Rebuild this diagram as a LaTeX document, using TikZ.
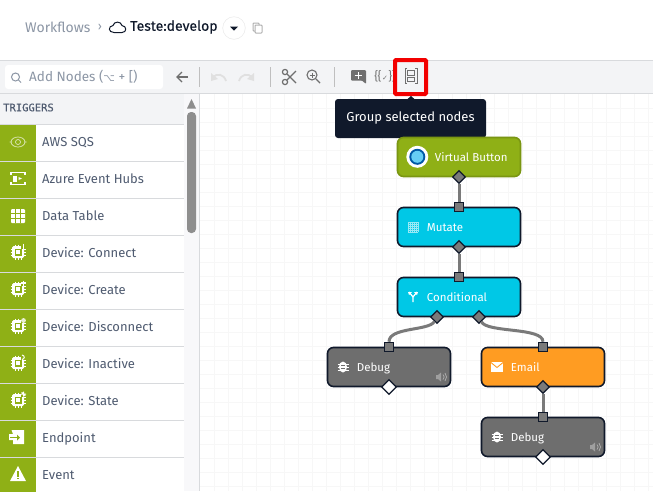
\documentclass[tikz,border=0pt]{standalone}
\usepackage{fontspec}
\setmainfont{Fira Sans}
\newfontfamily\symfont{DejaVu Sans}
\newfontfamily\capfont{DejaVu Sans Mono}
\usetikzlibrary{shapes.geometric}
\definecolor{navy}{HTML}{10192B}
\definecolor{panel}{HTML}{F3F4F6}
\definecolor{rule}{HTML}{D8DADD}
\definecolor{slate}{HTML}{4F5B70}
\definecolor{mist}{HTML}{8C96A5}
\definecolor{leaf}{HTML}{8FB016}
\definecolor{leafdark}{HTML}{7A9612}
\definecolor{sky}{HTML}{00C8E6}
\definecolor{ember}{HTML}{FF9C22}
\definecolor{ash}{HTML}{6E6E6E}
\definecolor{wire}{HTML}{7A7A7A}
\definecolor{icongrey}{HTML}{6F6F6F}
\tikzset{
  flowbox/.style={draw=navy, line width=1.6pt, rounded corners=6pt, minimum width=123pt, minimum height=39pt, inner sep=0pt},
  flowlabel/.style={anchor=west, text=white, text height=8.5pt, text depth=2.5pt, yshift=-1pt, font=\fontsize{11.5}{13}\selectfont, inner sep=0pt},
  rowlabel/.style={anchor=west, text=slate, text height=9.5pt, text depth=3pt, font=\fontsize{13}{15}\selectfont, inner sep=0pt},
  inport/.style={draw=navy, fill=wire, line width=1.5pt, minimum size=9pt, inner sep=0pt},
  outport/.style={diamond, draw=navy, fill=wire, line width=1.2pt, minimum size=13pt, inner sep=0pt},
  endport/.style={outport, fill=white, minimum size=15pt},
  flowwire/.style={draw=wire, line width=3pt},
  chip/.pic={
    \foreach \p in {-3,0,3} {
      \draw[white, line width=1pt] (-7.5,\p) -- (7.5,\p);
      \draw[white, line width=1pt] (\p,-7.5) -- (\p,7.5);
    }
    \fill[white, rounded corners=1.5pt] (-6,-6) rectangle (6,6);
    \fill[leaf] (-3.5,-3.5) rectangle (3.5,3.5);
    \fill[white] (-1.8,-1.8) rectangle (1.8,1.8);
    \fill[leaf] (3.2,-9) rectangle (9,-3.2);
  },
  bug/.pic={
    \foreach \p in {-3,0,3} \draw[white, line width=1pt] (-5.5,\p) -- (5.5,\p);
    \fill[white] (0,0) ellipse (4pt and 5.5pt);
    \draw[ash, line width=.4pt] (-1.8,-1.5) -- (1.8,-1.5) (-1.8,1.5) -- (1.8,1.5);
  },
  speaker/.pic={
    \fill[gray!75] (-5,-2) -- (-3,-2) -- (0,-4.5) -- (0,4.5) -- (-3,2) -- (-5,2) -- cycle;
    \draw[gray!60, line width=.7pt] (2,-2.5) .. controls (3.5,-1) and (3.5,1) .. (2,2.5);
    \draw[gray!60, line width=.7pt] (4,-4) .. controls (6,-1.5) and (6,1.5) .. (4,4);
  }
}
\begin{document}
\begin{tikzpicture}[x=1pt, y=-1pt]
  \useasboundingbox (0,0) rectangle (653,491);
  \fill[white] (0,0) rectangle (653,491);
  %% Canvas grid
  \foreach \x in {214,228,...,648} \draw[black!3, line width=.7pt] (\x,94) -- (\x,491);
  \foreach \y in {108,122,...,486} \draw[black!3, line width=.7pt] (200,\y) -- (653,\y);
  %% Header
  \node[anchor=west, text=mist, inner sep=0pt, font=\fontsize{14}{16}\selectfont] (crumb) at (25,27) {Workflows};
  \node[anchor=center, text=mist, inner sep=0pt, font=\fontsize{12}{14}\selectfont] (crumbsep) at (100,27.5) {›};
  \draw[navy, line width=1pt, line join=round] (114,32.5) .. controls (108,32.5) and (108,26) .. (113,25.5)
    .. controls (114,21) and (121,21) .. (122,25.5) .. controls (127,26) and (127,32.5) .. (122,32.5) -- cycle;
  \node[anchor=west, text=navy, inner sep=0pt, font=\fontsize{14}{16}\selectfont\addfontfeature{FakeBold=0.3}] (flowname) at (130,27) {Teste:develop};
  \draw[black!10, fill=white] (234,28) circle (11.3);
  \fill[navy] (230,26.5) -- (238,26.5) -- (234,30.5) -- cycle;
  \draw[black!30, line width=1pt, fill=white, rounded corners=.8pt] (253,23) rectangle (259,31);
  \draw[black!30, line width=1pt, fill=white, rounded corners=.8pt] (255,25) rectangle (262,33);
  %% Toolbar
  \fill[panel] (0,60) rectangle (653,93);
  \draw[rule, line width=1pt] (0,60) -- (653,60);
  \draw[rule, line width=1pt] (0,93.5) -- (653,93.5);
  \fill[white, rounded corners=3pt] (5,65) rectangle (163,89);
  \draw[mist, line width=1pt] (15.5,77) circle (4);
  \draw[mist, line width=1pt] (18.5,80) -- (21,82.5);
  \node[anchor=west, text=mist, inner sep=0pt, font=\fontsize{13.5}{16}\selectfont] (search) at (29,77) {Add Nodes ({\symfont\fontsize{10}{12}\selectfont ⌥} + [)};
  \draw[icongrey, line width=1.1pt] (188,77) -- (177,77);
  \draw[icongrey, line width=1.1pt] (182,72) -- (177,77) -- (182,82);
  \foreach \x in {199.5,270.5,334} \draw[black!25, line width=.8pt] (\x,67) -- (\x,87);
  \draw[black!12, line width=1.8pt] (226,81) .. controls (224,74) and (217,73) .. (213,77);
  \fill[black!12] (211,73) -- (218,79) -- (211,81) -- cycle;
  \draw[black!12, line width=1.8pt] (239,81) .. controls (241,74) and (248,73) .. (252,77);
  \fill[black!12] (254,73) -- (247,79) -- (254,81) -- cycle;
  %% Scissors and zoom
  \draw[icongrey, line width=1.2pt] (285,82) circle (2.6);
  \draw[icongrey, line width=1.2pt] (285,72) circle (2.6);
  \draw[icongrey, line width=1.2pt] (287,74) -- (296,83);
  \draw[icongrey, line width=1.2pt] (287,80) -- (296,71);
  \draw[icongrey, line width=1.1pt] (312,75) circle (5);
  \draw[icongrey, line width=1.4pt] (316,79) -- (320,83);
  \draw[icongrey, line width=.9pt] (309.5,75) -- (314.5,75) (312,72.5) -- (312,77.5);
  %% Comment, rule and group icons
  \fill[icongrey, rounded corners=1pt] (351,70) -- (366,70) -- (366,84) -- (362,80.5) -- (351,80.5) -- cycle;
  \draw[white, line width=1.4pt] (354.5,75.5) -- (362,75.5) (358.2,72) -- (358.2,79);
  \node[text=black!55, inner sep=0pt, font=\fontsize{12}{13}\selectfont] (ruleicon) at (385,76) {\{\kern-.5pt\{\kern.5pt{\symfont\fontsize{7}{8}\selectfont ✓}\kern.5pt\}\kern-.5pt\}};
  \draw[icongrey, line width=.8pt] (407,68) -- (405,68) -- (405,83.5) -- (407,83.5);
  \draw[icongrey, line width=.8pt] (415,68) -- (417,68) -- (417,83.5) -- (415,83.5);
  \draw[icongrey, line width=.8pt] (407.5,70.5) rectangle (414.5,75);
  \draw[icongrey, line width=.8pt] (407.5,77) rectangle (414.5,81.5);
  \draw[red!95!black, line width=4pt, rounded corners=1pt] (395,60) rectangle (426,94);
  %% Tooltip
  \fill[navy] (407,99.5) -- (411,96) -- (415,99.5) -- cycle;
  \node[fill=navy, rounded corners=3pt, minimum width=151pt, minimum height=39pt, inner sep=0pt, text=white,
    font=\fontsize{13}{15}\selectfont] (tooltip) at (410.5,118.5) {Group selected nodes};
  %% Sidebar
  \fill[panel] (0,94) rectangle (184,124);
  \fill[panel!60] (184,94) rectangle (199,491);
  \draw[rule, line width=1pt] (199.5,94) -- (199.5,491);
  \node[anchor=west, text=slate, inner sep=0pt, font=\capfont\fontsize{10.5}{12}\selectfont\addfontfeature{FakeBold=0.3}] (triggers) at (3,107.5) {TRIGGERS};
  \fill[wire!85] (187,108.5) -- (196,108.5) -- (191.5,99) -- cycle;
  \fill[wire!85, rounded corners=4pt] (187,112) rectangle (196,233);
  \foreach \i/\rowname in {0/AWS SQS, 1/Azure Event Hubs, 2/Data Table, 3/Device: Connect, 4/Device: Create,
      5/Device: Disconnect, 6/Device: Inactive, 7/Device: State, 8/Endpoint, 9/Event} {
    \pgfmathsetmacro{\rowTop}{124+37*\i}
    \fill[leaf] (0,\rowTop) rectangle (36,\rowTop+37);
    \draw[rule, line width=1pt] (0,\rowTop) -- (184,\rowTop);
    \node[rowlabel] (row\i) at (42,\rowTop+19) {\rowname};
  }
  %% Row icons
  \draw[white!70!leaf, line width=.7pt] (18,142) ellipse (7pt and 5pt);
  \draw[white!70!leaf, line width=.7pt] (18,142) circle (2.5) (9.5,142) -- (12,142) (24,142) -- (26.5,142);
  \draw[white, line width=1.3pt] (11,175) -- (11,172.5) -- (25,172.5) -- (25,175) (11,182) -- (11,184.5) -- (25,184.5) -- (25,182);
  \fill[white] (13,175.5) rectangle (17,181.5);
  \fill[white] (18.5,177) -- (22,178.5) -- (18.5,180) -- cycle;
  \fill[white, rounded corners=1pt] (11,209) rectangle (25,223);
  \draw[leaf, line width=.7pt] (11,213.5) -- (25,213.5) (11,218.3) -- (25,218.3) (15.7,209) -- (15.7,223) (20.4,209) -- (20.4,223);
  \foreach \y in {252,289,326,363,400} \pic at (18,\y) {chip};
  %% Chip corner marks
  \draw[white, line width=1.2pt] (23.5,243.5) -- (23.5,248.5);
  \draw[white, line width=1.1pt] (21,283) -- (26,283) (23.5,280.5) -- (23.5,285.5);
  \fill[white!80!leaf] (23.5,320.5) circle (2.4);
  \draw[white, line width=1pt] (22,355) .. controls (25,355.5) and (25,359) .. (22,359.5);
  \draw[white, line width=1pt] (21,394) -- (26,394) (23.5,391.5) -- (23.5,396.5) (21.7,392.2) -- (25.3,395.8);
  \fill[white] (11.5,430) -- (24,430) -- (24,444) -- (13,444) -- (13,440) -- (9,440) -- (9,434) -- (13,434) -- cycle;
  \draw[leaf, line width=1.1pt] (10,437.5) -- (18,437.5);
  \fill[leaf] (17,434.5) -- (20,437.5) -- (17,440.5) -- cycle;
  \fill[white] (10,481) -- (18,466) -- (26,481) -- cycle;
  \fill[leaf] (17.2,471) rectangle (18.8,476.5);
  \fill[leaf] (17.2,477.5) rectangle (18.8,479.3);
  %% Flow nodes
  \node[flowbox, fill=leaf, draw=leafdark] (button) at (459,157) {};
  \node[flowbox, fill=sky] (mutate) at (459,227) {};
  \node[flowbox, fill=sky] (conditional) at (459,297) {};
  \node[flowbox, fill=ash] (debugA) at (389,367) {};
  \node[flowbox, fill=ember] (email) at (543,367) {};
  \node[flowbox, fill=ash] (debugB) at (543,437) {};
  \node[flowlabel] (buttonText) at ([xshift=38pt]button.west) {Virtual Button};
  \node[flowlabel] (mutateText) at ([xshift=30pt]mutate.west) {Mutate};
  \node[flowlabel] (conditionalText) at ([xshift=30pt]conditional.west) {Conditional};
  \node[flowlabel] (debugAText) at ([xshift=30pt]debugA.west) {Debug};
  \node[flowlabel] (emailText) at ([xshift=30pt]email.west) {Email};
  \node[flowlabel] (debugBText) at ([xshift=30pt]debugB.west) {Debug};
  %% Node icons
  \fill[white] (417.3,156.8) circle (11);
  \fill[teal!70!blue] (417.3,156.8) circle (8);
  \fill[cyan!60!white] (417.3,156.8) circle (6);
  \foreach \p in {-5,-3,-1,1,3,5} {
    \draw[white!60!sky, line width=.35pt] (408,227+\p) -- (418,227+\p);
    \draw[white!60!sky, line width=.35pt] (413+\p,222) -- (413+\p,232);
  }
  \draw[white, line width=1.2pt] (409,292) -- (413,297) -- (413,302) (417,292) -- (413,297);
  \fill[white] (408,292) -- (412,292) -- (409,295) -- cycle;
  \fill[white] (418,292) -- (414,292) -- (417,295) -- cycle;
  \pic at (343,367) {bug};
  \pic at (497,437) {bug};
  \fill[white] (491,362) rectangle (503,371.5);
  \draw[ember, line width=.9pt] (491,362.5) -- (497,367.5) -- (503,362.5);
  \pic at (441,377) {speaker};
  \pic at (595,447) {speaker};
  %% Ports
  \node[outport] (buttonOut) at (459,177) {};
  \node[inport] (mutateIn) at (459,207) {};
  \node[outport] (mutateOut) at (459,247) {};
  \node[inport] (conditionalIn) at (459,277) {};
  \node[outport] (conditionalLeft) at (437,317) {};
  \node[outport] (conditionalRight) at (479,317) {};
  \node[inport] (debugAIn) at (389,347) {};
  \node[inport] (emailIn) at (543,347) {};
  \node[endport] (debugAOut) at (389,387) {};
  \node[outport] (emailOut) at (543,387) {};
  \node[inport] (debugBIn) at (543,417) {};
  \node[endport] (debugBOut) at (543,457) {};
  %% Connectors
  \draw[flowwire] (buttonOut) -- (mutateIn);
  \draw[flowwire] (mutateOut) -- (conditionalIn);
  \draw[flowwire] (conditionalLeft) .. controls +(-8,14) and +(0,-20) .. (debugAIn);
  \draw[flowwire] (conditionalRight) .. controls +(8,16) and +(0,-20) .. (emailIn);
  \draw[flowwire] (emailOut) -- (debugBIn);
\end{tikzpicture}
\end{document}
